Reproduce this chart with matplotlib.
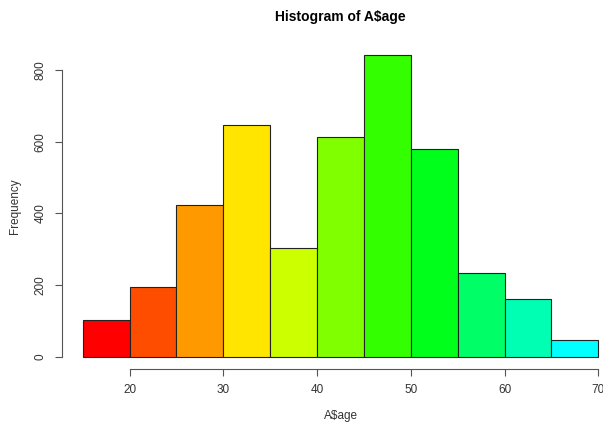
import matplotlib
matplotlib.use("Agg")
import matplotlib.pyplot as plt
import numpy as np

# histogram bins (age) and counts
breaks = [15, 20, 25, 30, 35, 40, 45, 50, 55, 60, 65, 70]
counts = [102, 195, 424, 647, 304, 612, 843, 579, 234, 162, 46]
# rainbow(20)[1:11] as in R
colors = ["#FF0000", "#FF4D00", "#FF9900", "#FFE500", "#CCFF00", "#80FF00",
          "#33FF00", "#00FF1A", "#00FF66", "#00FFB3", "#00FFFF"]
xticks = [20, 30, 40, 50, 60, 70]
yticks = [0, 200, 400, 600, 800]

plt.rcParams["font.family"] = ["Liberation Sans", "DejaVu Sans"]

fig = plt.figure(figsize=(6.03, 4.23), dpi=100)
ax = fig.add_axes([62 / 603, 1 - 369 / 423, 557 / 603, 326.5 / 423])

widths = np.diff(breaks)
ax.bar(breaks[:-1], counts, width=widths, align="edge", color=colors,
       edgecolor="#222222", linewidth=0.8)

# R-style axis ranges (4% padding)
xr = breaks[-1] - breaks[0]
ax.set_xlim(breaks[0] - 0.04 * xr, breaks[-1] + 0.04 * xr)
ym = max(counts)
ax.set_ylim(-0.04 * ym, ym * 1.04)

for s in ["top", "right"]:
    ax.spines[s].set_visible(False)
ax.spines["left"].set_bounds(yticks[0], yticks[-1])
ax.spines["bottom"].set_bounds(xticks[0], xticks[-1])
for s in ["left", "bottom"]:
    ax.spines[s].set_color("#555555")
    ax.spines[s].set_linewidth(0.8)

ax.set_xticks(xticks)
ax.set_yticks(yticks)
ax.set_yticklabels([str(v) for v in yticks], rotation=90, va="center")
ax.tick_params(axis="both", length=5, width=0.8, color="#555555",
               labelsize=8.5, labelcolor="#333333", pad=6)

ax.set_xlabel("A\\$age", fontsize=8.5, color="#333333", labelpad=10)
ax.set_ylabel("Frequency", fontsize=8.5, color="#333333", labelpad=10)
fig.text(0.5 * (62 + 619) / 603, 1 - 17 / 423, "Histogram of A\\$age",
         ha="center", va="center", fontsize=10, fontweight="bold")

fig.savefig("out.png", dpi=100)
